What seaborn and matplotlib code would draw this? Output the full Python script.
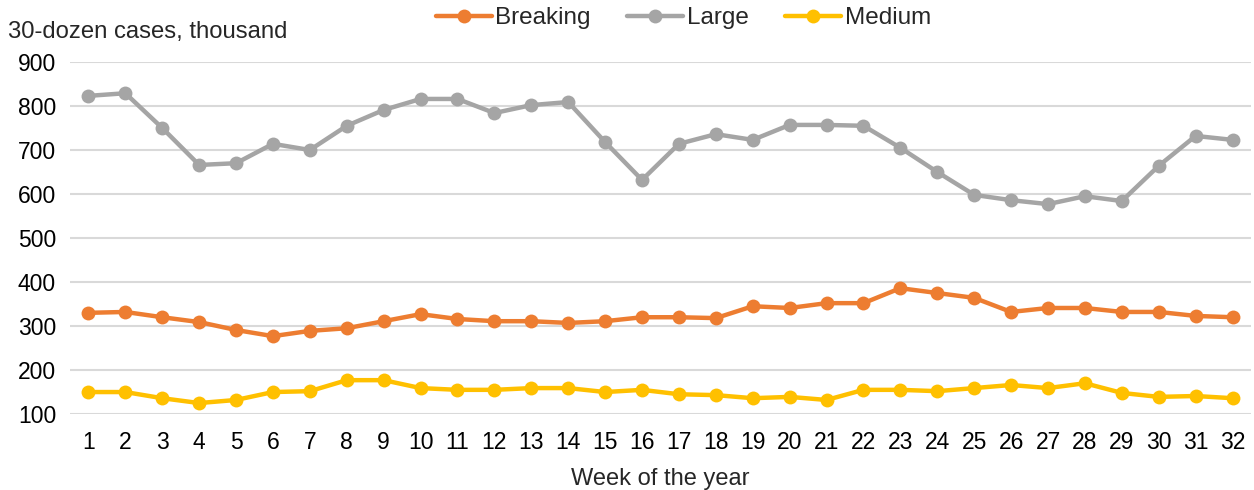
import pandas as pd
import seaborn as sns
import matplotlib.pyplot as plt
from matplotlib.lines import Line2D

weeks = list(range(1, 33))

breaking = [330, 332, 320, 309, 291, 277, 289, 295, 311, 327, 316, 311, 311, 307, 311, 320,
            320, 318, 345, 341, 352, 352, 386, 375, 364, 332, 341, 341, 332, 332, 323, 320]
large = [823, 829, 750, 666, 670, 714, 700, 755, 791, 816, 816, 784, 802, 809, 718, 632,
         714, 736, 723, 757, 757, 755, 705, 650, 598, 586, 577, 595, 584, 664, 732, 723]
medium = [150, 150, 136, 125, 132, 150, 152, 177, 177, 159, 155, 155, 159, 159, 150, 155,
          145, 143, 136, 139, 132, 155, 155, 152, 159, 166, 159, 170, 148, 139, 141, 136]

series_names = ["Breaking", "Large", "Medium"]
colors = ["#ED7D31", "#A5A5A5", "#FFC000"]

df = pd.DataFrame({
    "week": weeks * 3,
    "value": breaking + large + medium,
    "series": [s for s in series_names for _ in weeks],
})

sns.set_style("white")
plt.rcParams["font.family"] = ["Liberation Sans", "DejaVu Sans"]
plt.rcParams["font.size"] = 16

fig = plt.figure(figsize=(12.54, 4.9), dpi=100)
ax = fig.add_axes([0.0558, 0.155, 0.9418, 0.7185])

sns.lineplot(data=df, x="week", y="value", hue="series", palette=colors,
             hue_order=series_names, marker="o", markersize=10, markeredgewidth=0,
             linewidth=3.2, legend=False, ax=ax, zorder=3)

ax.set_xlim(0.5, 32.5)
ax.set_ylim(100, 900)
ax.set_yticks(range(100, 1000, 100))
ax.set_xticks(weeks)
ax.grid(axis="y", color="#D9D9D9", linewidth=1.5, zorder=0)
for sp in ax.spines.values():
    sp.set_visible(False)
ax.tick_params(axis="both", length=0, labelsize=16.5, colors="black")
ax.tick_params(axis="x", pad=12)
ax.tick_params(axis="y", pad=10)
ax.set_xlabel("Week of the year", fontsize=17, labelpad=10)
ax.set_ylabel("")

fig.text(0.006, 0.935, "30-dozen cases, thousand", fontsize=17.2, va="center", ha="left")

handles = [Line2D([0], [0], color=c, linewidth=3.2, marker="o", markersize=10,
                  markeredgewidth=0) for c in colors]
fig.legend(handles, series_names, loc="center", bbox_to_anchor=(0.545, 0.963), ncol=3,
           frameon=False, fontsize=17.5, handlelength=2.3, handletextpad=0.15,
           columnspacing=1.5, borderaxespad=0)

fig.savefig("out.png", dpi=100)
